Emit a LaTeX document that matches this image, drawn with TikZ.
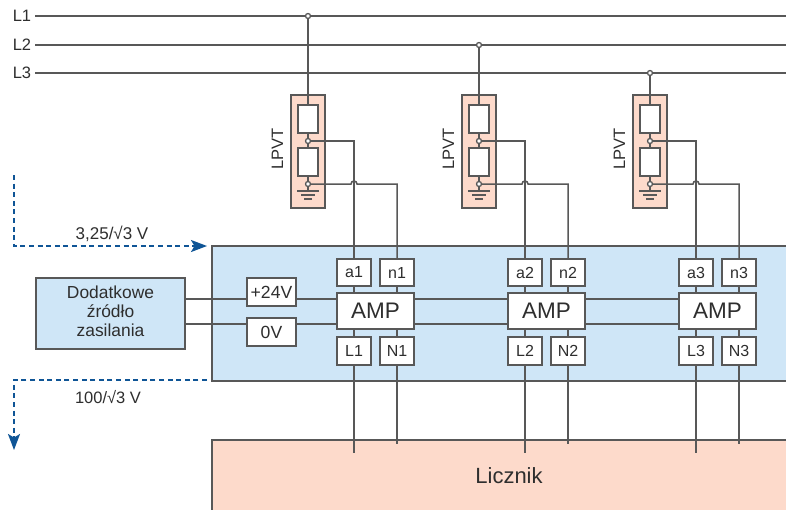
\documentclass[tikz,border=0pt]{standalone}
\usepackage{fontspec}
\setmainfont{Liberation Sans}
\usetikzlibrary{arrows.meta}
\definecolor{wirec}{HTML}{585858}
\definecolor{textc}{HTML}{2E2E2E}
\definecolor{panelc}{HTML}{CFE6F7}
\definecolor{salmonc}{HTML}{FDDACB}
\definecolor{dashc}{HTML}{0F5596}
\tikzset{
  wire/.style={draw=wirec,line width=1.5pt},
  dashwire/.style={draw=dashc,line width=2pt,dash pattern=on 5pt off 3.6pt},
  bx/.style={draw=wirec,line width=1.5pt,fill=white,inner sep=0pt,outer sep=0pt,text=textc,font=\fontsize{16}{18}\selectfont},
  smallbox/.style={bx,minimum width=34pt,minimum height=27pt},
  lowbox/.style={bx,minimum width=34pt,minimum height=28pt},
  ampbox/.style={bx,minimum width=77pt,minimum height=36pt,font=\fontsize{22.5}{24}\selectfont},
  resbox/.style={bx,minimum width=20pt,minimum height=28pt},
  supply/.style={bx,minimum width=49pt,minimum height=28pt,font=\fontsize{17.6}{19}\selectfont},
  tap/.style={circle,draw=wirec,line width=1.3pt,fill=white,inner sep=0pt,minimum size=5pt},
  lab/.style={text=textc,inner sep=0pt,font=\fontsize{16.5}{19}\selectfont},
  tip/.style={-{Stealth[length=16pt,width=12pt,inset=3.5pt]}}
}
\begin{document}
\begin{tikzpicture}[x=1pt,y=-1pt]
\useasboundingbox (0,0) rectangle (786,509);
\clip (0,0) rectangle (786,509);
\fill[white] (0,0) rectangle (786,509);

% panels
\node[bx,fill=panelc,minimum width=610pt,minimum height=135pt] (panel) at (517,313.5) {};
\node[bx,fill=salmonc,minimum width=594pt,minimum height=72pt,font=\fontsize{22}{24}\selectfont] (licznik) at (509,476) {Licznik};

% phases
\foreach \n/\y in {1/16,2/45,3/73}{
  \node[lab,anchor=center] (ph\n) at (22,\y) {L\n};
  \coordinate (phs\n) at (35,\y);
  \coordinate (phe\n) at (786,\y);
  \draw[wire] (phs\n) -- (phe\n);
}

% columns
\foreach \n/\s/\y in {1/0/16,2/171/45,3/342/73}{
\begin{scope}[xshift=\s pt]
  \node[bx,fill=salmonc,minimum width=34pt,minimum height=113pt] (lpvt\n) at (308,151.5) {};
  \node[lab,rotate=90] (lpvtl\n) at (277.5,148.6) {LPVT};
  \node[tap] (tap\n) at (308,\y) {};
  \node[resbox] (ra\n) at (308,119) {};
  \node[resbox] (rb\n) at (308,162) {};
  \node[tap] (pa\n) at (308,141) {};
  \node[tap] (pb\n) at (308,184) {};
  \coordinate (gnd\n) at (308,191);
  \coordinate (ga\n) at (297,191);
  \coordinate (gb\n) at (319,191);
  \coordinate (gc\n) at (301,195);
  \coordinate (gd\n) at (315,195);
  \coordinate (ge\n) at (304,199);
  \coordinate (gf\n) at (312,199);
  \coordinate (jump\n) at (351,184);
  \node[smallbox] (a\n) at (354,272.5) {a\n};
  \node[smallbox] (nn\n) at (397,272.5) {n\n};
  \node[ampbox] (amp\n) at (375.5,311) {AMP};
  \node[lowbox] (ll\n) at (354,351) {L\n};
  \node[lowbox] (en\n) at (397,351) {N\n};
  \coordinate (enda\n) at (354,453);
  \coordinate (endn\n) at (397,444);
\end{scope}
  \draw[wire] (tap\n) -- (ra\n.north);
  \draw[wire] (ra\n.south) -- (pa\n);
  \draw[wire] (pa\n) -- (rb\n.north);
  \draw[wire] (rb\n.south) -- (pb\n);
  \draw[wire] (pb\n) -- (gnd\n);
  \draw[wire] (ga\n) -- (gb\n);
  \draw[wire] (gc\n) -- (gd\n);
  \draw[wire] (ge\n) -- (gf\n);
  \draw[wire] (pa\n) -| (a\n.north);
  \draw[wire] (pb\n) -- (jump\n) arc[start angle=180,end angle=0,radius=3pt] -| (nn\n.north);
  \draw[wire] (a\n.south) -- (a\n.south |- amp\n.north);
  \draw[wire] (nn\n.south) -- (nn\n.south |- amp\n.north);
  \draw[wire] (ll\n.north |- amp\n.south) -- (ll\n.north);
  \draw[wire] (en\n.north |- amp\n.south) -- (en\n.north);
  \draw[wire] (ll\n.south) -- (enda\n);
  \draw[wire] (en\n.south) -- (endn\n);
}

% auxiliary supply
\node[bx,fill=panelc,minimum width=149pt,minimum height=71pt,font=\fontsize{17.4}{18.8}\selectfont] (dod) at (110.5,313.5) {\raisebox{2pt}{\begin{tabular}{@{}c@{}}Dodatkowe\\źródło\\zasilania\end{tabular}}};
\node[supply] (plus) at (271.5,292) {+24V};
\node[supply] (zero) at (271.5,332) {0V};
\coordinate (wp) at (185,299);
\coordinate (wz) at (185,324);
\draw[wire] (wp) -- (wp -| plus.west);
\draw[wire] (wz) -- (wz -| zero.west);
\draw[wire] (wp -| plus.east) -- (wp -| amp1.west);
\draw[wire] (wz -| zero.east) -- (wz -| amp1.west);
\draw[wire] (wp -| amp1.east) -- (wp -| amp2.west);
\draw[wire] (wz -| amp1.east) -- (wz -| amp2.west);
\draw[wire] (wp -| amp2.east) -- (wp -| amp3.west);
\draw[wire] (wz -| amp2.east) -- (wz -| amp3.west);

% measurement signals
\coordinate (da) at (14,175);
\coordinate (db) at (14,246);
\coordinate (dc) at (207,246);
\coordinate (dd) at (207,380);
\coordinate (de) at (14,380);
\coordinate (df) at (14,450);
\draw[dashwire,tip] (da) -- (db) -- (dc);
\draw[dashwire,tip] (dd) -- (de) -- (df);
\node[lab,font=\fontsize{17}{19}\selectfont] (vin) at (112,234) {3,25/√3 V};
\node[lab] (vout) at (108,396.7) {100/√3 V};
\end{tikzpicture}
\end{document}
